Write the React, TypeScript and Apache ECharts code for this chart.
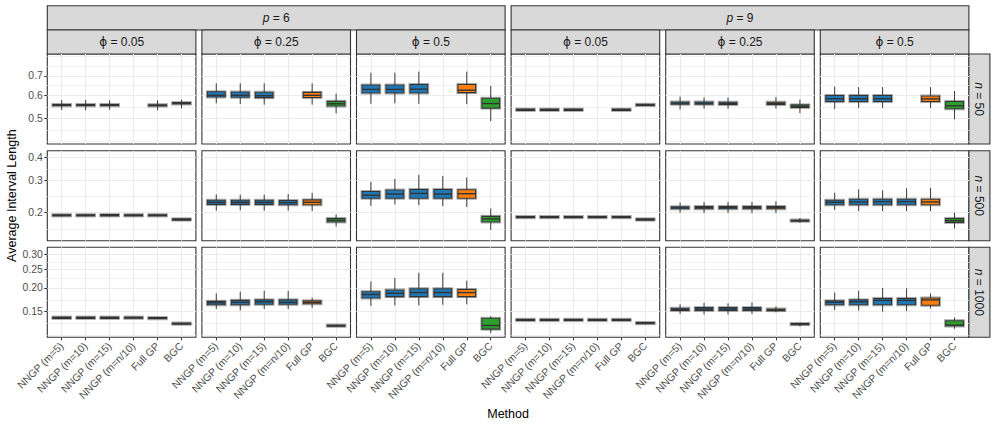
import React, { useEffect, useRef } from "react";
import * as echarts from "echarts";

// ---------- data ----------
const METHODS = ["NNGP (m=5)", "NNGP (m=10)", "NNGP (m=15)", "NNGP (m=n/10)", "Full GP", "BGC"];
const P_LEVELS = ["6", "9"];
const PHI_LEVELS = ["0.05", "0.25", "0.5"];
const N_LEVELS = ["50", "500", "1000"];

const Y_TICKS_N50 = ["0.5", "0.6", "0.7"];
const Y_TICKS_N500 = ["0.2", "0.3", "0.4"];
const Y_TICKS_N1000 = ["0.15", "0.20", "0.25", "0.30"];
const Y_LIMITS = [
  [0.4076, 0.8331],
  [0.1405, 0.4369],
  [0.1101, 0.3265],
];

// each row: [lower whisker, Q1, median, Q3, upper whisker] per method (null = absent)
const N50_P6_PHI005 = [
  [0.534, 0.552, 0.555, 0.558, 0.578],
  [0.533, 0.552, 0.555, 0.558, 0.578],
  [0.535, 0.552, 0.555, 0.558, 0.577],
  null,
  [0.533, 0.551, 0.554, 0.557, 0.577],
  [0.541, 0.560, 0.563, 0.566, 0.580],
];
const N50_P6_PHI025 = [
  [0.563, 0.592, 0.600, 0.617, 0.660],
  [0.560, 0.591, 0.600, 0.616, 0.660],
  [0.557, 0.589, 0.598, 0.615, 0.660],
  null,
  [0.557, 0.590, 0.600, 0.614, 0.660],
  [0.520, 0.551, 0.561, 0.572, 0.608],
];
const N50_P6_PHI05 = [
  [0.561, 0.611, 0.629, 0.651, 0.718],
  [0.563, 0.611, 0.629, 0.651, 0.718],
  [0.561, 0.611, 0.630, 0.654, 0.724],
  null,
  [0.559, 0.613, 0.625, 0.654, 0.724],
  [0.489, 0.542, 0.562, 0.586, 0.646],
];
const N50_P9_PHI005 = [
  [0.531, 0.533, 0.535, 0.537, 0.540],
  [0.531, 0.533, 0.535, 0.537, 0.540],
  [0.531, 0.533, 0.535, 0.537, 0.540],
  null,
  [0.531, 0.533, 0.535, 0.537, 0.540],
  [0.552, 0.554, 0.556, 0.558, 0.561],
];
const N50_P9_PHI025 = [
  [0.536, 0.559, 0.564, 0.569, 0.594],
  [0.540, 0.559, 0.564, 0.569, 0.590],
  [0.540, 0.558, 0.563, 0.568, 0.590],
  null,
  [0.540, 0.558, 0.563, 0.568, 0.592],
  [0.521, 0.545, 0.550, 0.556, 0.580],
];
const N50_P9_PHI05 = [
  [0.539, 0.571, 0.584, 0.599, 0.643],
  [0.543, 0.571, 0.584, 0.599, 0.640],
  [0.543, 0.571, 0.584, 0.599, 0.640],
  null,
  [0.543, 0.571, 0.583, 0.597, 0.640],
  [0.496, 0.539, 0.552, 0.571, 0.621],
];

const N500_P6_PHI005 = [
  [0.191, 0.1928, 0.1935, 0.1942, 0.196],
  [0.191, 0.1928, 0.1935, 0.1942, 0.196],
  [0.191, 0.1928, 0.1936, 0.1943, 0.196],
  [0.191, 0.1928, 0.1935, 0.1942, 0.196],
  [0.191, 0.1928, 0.1935, 0.1942, 0.196],
  [0.1825, 0.1832, 0.1836, 0.184, 0.1847],
];
const N500_P6_PHI025 = [
  [0.205, 0.222, 0.228, 0.234, 0.252],
  [0.206, 0.222, 0.228, 0.234, 0.251],
  [0.205, 0.222, 0.228, 0.234, 0.251],
  [0.205, 0.221, 0.227, 0.233, 0.253],
  [0.204, 0.221, 0.228, 0.235, 0.257],
  [0.168, 0.178, 0.182, 0.186, 0.196],
];
const N500_P6_PHI05 = [
  [0.218, 0.240, 0.249, 0.261, 0.295],
  [0.222, 0.240, 0.253, 0.266, 0.306],
  [0.220, 0.240, 0.255, 0.268, 0.322],
  [0.217, 0.240, 0.253, 0.268, 0.318],
  [0.215, 0.240, 0.254, 0.267, 0.312],
  [0.161, 0.178, 0.185, 0.191, 0.211],
];
const N500_P9_PHI005 = [
  [0.1875, 0.1886, 0.1893, 0.19, 0.191],
  [0.1875, 0.1886, 0.1893, 0.19, 0.191],
  [0.1875, 0.1886, 0.1893, 0.19, 0.191],
  [0.1875, 0.1886, 0.1893, 0.19, 0.191],
  [0.1875, 0.1886, 0.1893, 0.19, 0.191],
  [0.1825, 0.1831, 0.1836, 0.1841, 0.1847],
];
const N500_P9_PHI025 = [
  [0.200, 0.210, 0.2127, 0.2155, 0.227],
  [0.199, 0.210, 0.213, 0.216, 0.229],
  [0.199, 0.210, 0.213, 0.216, 0.229],
  [0.199, 0.210, 0.213, 0.216, 0.229],
  [0.199, 0.210, 0.213, 0.216, 0.231],
  [0.176, 0.180, 0.181, 0.1825, 0.187],
];
const N500_P9_PHI05 = [
  [0.207, 0.221, 0.228, 0.234, 0.257],
  [0.204, 0.221, 0.229, 0.237, 0.268],
  [0.204, 0.221, 0.230, 0.237, 0.265],
  [0.204, 0.221, 0.230, 0.237, 0.272],
  [0.204, 0.221, 0.229, 0.237, 0.274],
  [0.164, 0.177, 0.181, 0.186, 0.200],
];

const N1000_P6_PHI005 = [
  [0.1380, 0.1389, 0.1394, 0.1399, 0.1408],
  [0.1380, 0.1389, 0.1394, 0.1399, 0.1408],
  [0.1380, 0.1389, 0.1394, 0.1399, 0.1408],
  [0.1381, 0.1390, 0.1395, 0.1400, 0.1409],
  [0.1378, 0.1383, 0.1387, 0.1391, 0.1396],
  [0.1293, 0.1296, 0.1299, 0.1302, 0.1305],
];
const N1000_P6_PHI025 = [
  [0.155, 0.163, 0.167, 0.170, 0.187],
  [0.152, 0.163, 0.168, 0.172, 0.191],
  [0.155, 0.164, 0.169, 0.173, 0.193],
  [0.155, 0.164, 0.168, 0.173, 0.193],
  [0.157, 0.165, 0.168, 0.171, 0.178],
  [0.1258, 0.1262, 0.1267, 0.1275, 0.1282],
];
const N1000_P6_PHI05 = [
  [0.161, 0.177, 0.1846, 0.191, 0.216],
  [0.162, 0.180, 0.1875, 0.195, 0.2255],
  [0.162, 0.180, 0.189, 0.198, 0.240],
  [0.163, 0.180, 0.189, 0.198, 0.240],
  [0.164, 0.180, 0.189, 0.196, 0.218],
  [0.1158, 0.1215, 0.127, 0.1385, 0.142],
];
const N1000_P9_PHI005 = [
  [0.1350, 0.1354, 0.1358, 0.1362, 0.1366],
  [0.1350, 0.1354, 0.1358, 0.1362, 0.1366],
  [0.1350, 0.1354, 0.1358, 0.1362, 0.1366],
  [0.1350, 0.1354, 0.1358, 0.1362, 0.1366],
  [0.1350, 0.1354, 0.1358, 0.1362, 0.1366],
  [0.1300, 0.1304, 0.1307, 0.1310, 0.1313],
];
const N1000_P9_PHI025 = [
  [0.146, 0.1525, 0.1544, 0.1565, 0.164],
  [0.145, 0.1525, 0.155, 0.1575, 0.167],
  [0.145, 0.1525, 0.155, 0.1575, 0.166],
  [0.146, 0.1525, 0.155, 0.1575, 0.168],
  [0.149, 0.152, 0.1535, 0.155, 0.160],
  [0.1255, 0.1285, 0.1292, 0.1299, 0.1315],
];
const N1000_P9_PHI05 = [
  [0.153, 0.163, 0.168, 0.171, 0.189],
  [0.152, 0.163, 0.169, 0.173, 0.193],
  [0.150, 0.163, 0.172, 0.176, 0.200],
  [0.151, 0.163, 0.172, 0.176, 0.199],
  [0.156, 0.162, 0.173, 0.177, 0.187],
  [0.122, 0.1262, 0.1275, 0.1345, 0.140],
];

const PANELS = [
  [N50_P6_PHI005, N50_P6_PHI025, N50_P6_PHI05, N50_P9_PHI005, N50_P9_PHI025, N50_P9_PHI05],
  [N500_P6_PHI005, N500_P6_PHI025, N500_P6_PHI05, N500_P9_PHI005, N500_P9_PHI025, N500_P9_PHI05],
  [N1000_P6_PHI005, N1000_P6_PHI025, N1000_P6_PHI05, N1000_P9_PHI005, N1000_P9_PHI025, N1000_P9_PHI05],
];
const ROW_TICKS = [Y_TICKS_N50, Y_TICKS_N500, Y_TICKS_N1000];

// ---------- styling / layout ----------
const COLORS = ["#1F77B4", "#1F77B4", "#1F77B4", "#1F77B4", "#FF7F0E", "#2CA02C"];
const FONT = "'Liberation Sans', Arial, Helvetica, sans-serif";
const COL_LEFT = [47.3, 201.9, 356.5, 511.1, 665.7, 820.3];
const PANEL_W = 148.6;
const ROW_TOP = [54, 150.7, 247.3];
const PANEL_H = 90;
const STRIP1_TOP = 5.7;
const STRIP1_H = 24.3;
const STRIP2_TOP = 30;
const STRIP2_H = 24;
const RSTRIP_LEFT = 968.9;
const RSTRIP_W = 21;
const BOX_WIDTH = 0.74;
const TICK_FONT = 10.4;
const STRIP_FONT = 12;
const TITLE_FONT = 12.5;

function minorBreaks(majors: number[], lo: number, hi: number) {
  let b = majors.slice();
  if (lo < b[0]) b = [b[0] - (b[1] - b[0]), ...b];
  const n = b.length;
  if (hi > b[n - 1]) b = [...b, b[n - 1] + (b[n - 1] - b[n - 2])];
  const out: number[] = [];
  for (let i = 0; i < b.length - 1; i++) {
    out.push(b[i], (b[i] + b[i + 1]) / 2);
  }
  out.push(b[b.length - 1]);
  return out.filter((v) => v >= lo && v <= hi);
}

function buildOption() {
  const grid: any[] = [];
  const xAxis: any[] = [];
  const yAxis: any[] = [];
  const series: any[] = [];
  const xTicks = METHODS.map((_, i) => i + 1);

  for (let r = 0; r < 3; r++) {
    const lo = Math.log10(Y_LIMITS[r][0]);
    const hi = Math.log10(Y_LIMITS[r][1]);
    const majLabels = ROW_TICKS[r];
    const majors = majLabels.map((s) => Math.log10(parseFloat(s)));
    const minors = minorBreaks(majors, lo, hi);
    const fmt = (v: number) => {
      let best = 0;
      majors.forEach((m, i) => {
        if (Math.abs(m - v) < Math.abs(majors[best] - v)) best = i;
      });
      return majLabels[best];
    };
    for (let c = 0; c < 6; c++) {
      const g = r * 6 + c;
      grid.push({
        left: COL_LEFT[c],
        top: ROW_TOP[r],
        width: PANEL_W,
        height: PANEL_H,
        show: true,
        backgroundColor: "#FFFFFF",
        borderColor: "#333333",
        borderWidth: 1.1,
        z: 0,
      });
      const bottom = r === 2;
      xAxis.push({
        type: "value",
        gridIndex: g,
        min: 0.4,
        max: 6.6,
        axisLine: { show: false },
        axisTick: {
          show: bottom,
          customValues: xTicks,
          length: 3,
          lineStyle: { color: "#333333", width: 1 },
        },
        axisLabel: {
          show: bottom,
          customValues: xTicks,
          formatter: (v: number) => METHODS[Math.round(v) - 1] || "",
          rotate: 45,
          margin: 7,
          fontSize: TICK_FONT,
          fontFamily: FONT,
          color: "#4D4D4D",
        },
        splitLine: { show: true, lineStyle: { color: "#EBEBEB", width: 1 } },
      });
      yAxis.push({
        type: "value",
        gridIndex: g,
        min: lo,
        max: hi,
        axisLine: { show: false },
        axisTick: {
          show: c === 0,
          customValues: majors,
          length: 3,
          lineStyle: { color: "#333333", width: 1 },
        },
        axisLabel: {
          show: c === 0,
          customValues: majors,
          formatter: fmt,
          margin: 4.5,
          fontSize: TICK_FONT,
          fontFamily: FONT,
          color: "#4D4D4D",
        },
        splitLine: { show: true, lineStyle: { color: "#EBEBEB", width: 1 } },
      });
      yAxis.push({
        type: "value",
        gridIndex: g,
        min: lo,
        max: hi,
        axisLine: { show: false },
        axisTick: { show: false, customValues: minors },
        axisLabel: { show: false, customValues: minors },
        splitLine: { show: true, lineStyle: { color: "#EBEBEB", width: 0.7 } },
      });

      const panel = PANELS[r][c];
      const data: any[] = [];
      panel.forEach((row, i) => {
        if (!row) return;
        data.push([i + 1, ...row.map((v) => Math.log10(v)), i]);
      });
      series.push({
        type: "custom",
        xAxisIndex: g,
        yAxisIndex: 2 * g,
        encode: { x: 0, y: [1, 2, 3, 4, 5] },
        data,
        z: 5,
        renderItem: (params: any, api: any) => {
          const x = api.value(0);
          const p = (k: number) => api.coord([x, api.value(k)]);
          const cx = p(3)[0];
          const yLo = p(1)[1];
          const yQ1 = p(2)[1];
          const yMed = p(3)[1];
          const yQ3 = p(4)[1];
          const yHi = p(5)[1];
          const w = api.size([BOX_WIDTH, 0])[0];
          const color = COLORS[api.value(6)];
          const minH = 1.2;
          const h = Math.max(yQ1 - yQ3, minH);
          const boxTop = yQ1 - yQ3 < minH ? yMed - minH / 2 : yQ3;
          return {
            type: "group",
            children: [
              {
                type: "line",
                shape: { x1: cx, y1: yHi, x2: cx, y2: boxTop },
                style: { stroke: "#3A3A3A", lineWidth: 1 },
              },
              {
                type: "line",
                shape: { x1: cx, y1: boxTop + h, x2: cx, y2: yLo },
                style: { stroke: "#3A3A3A", lineWidth: 1 },
              },
              {
                type: "rect",
                shape: { x: cx - w / 2 - 1, y: boxTop - 1, width: w + 2, height: h + 2 },
                style: { fill: "none", stroke: "rgba(60,60,60,0.45)", lineWidth: 1 },
              },
              {
                type: "rect",
                shape: { x: cx - w / 2, y: boxTop, width: w, height: h },
                style: { fill: color, stroke: "#333333", lineWidth: 1.1 },
              },
              {
                type: "line",
                shape: { x1: cx - w / 2, y1: yMed, x2: cx + w / 2, y2: yMed },
                style: { stroke: "#333333", lineWidth: 1.4 },
              },
            ],
          };
        },
      });
    }
  }

  const txt = (extra: any) => ({
    fontSize: STRIP_FONT,
    fontFamily: FONT,
    fill: "#1A1A1A",
    textAlign: "center",
    align: "center",
    textVerticalAlign: "middle",
    verticalAlign: "middle",
    ...extra,
  });
  const rich = {
    it: { fontStyle: "italic", fontSize: STRIP_FONT, fontFamily: FONT, fill: "#1A1A1A" },
    sym: { fontSize: STRIP_FONT, fontFamily: "'DejaVu Sans', sans-serif", fill: "#1A1A1A" },
  };

  const graphic: any[] = [];
  P_LEVELS.forEach((p, i) => {
    const x0 = COL_LEFT[i * 3];
    const x1 = COL_LEFT[i * 3 + 2] + PANEL_W;
    graphic.push({
      type: "rect",
      shape: { x: x0, y: STRIP1_TOP, width: x1 - x0, height: STRIP1_H },
      style: { fill: "#D9D9D9", stroke: "#333333", lineWidth: 1.1 },
    });
    graphic.push({
      type: "text",
      x: (x0 + x1) / 2,
      y: STRIP1_TOP + STRIP1_H / 2,
      style: txt({ text: `{it|p} = ${p}`, rich }),
    });
    PHI_LEVELS.forEach((phi, j) => {
      const c = i * 3 + j;
      graphic.push({
        type: "rect",
        shape: { x: COL_LEFT[c], y: STRIP2_TOP, width: PANEL_W, height: STRIP2_H },
        style: { fill: "#D9D9D9", stroke: "#333333", lineWidth: 1.1 },
      });
      graphic.push({
        type: "text",
        x: COL_LEFT[c] + PANEL_W / 2,
        y: STRIP2_TOP + STRIP2_H / 2,
        style: txt({ text: `{sym|\u03D5} = ${phi}`, rich }),
      });
    });
  });
  N_LEVELS.forEach((n, r) => {
    graphic.push({
      type: "rect",
      shape: { x: RSTRIP_LEFT, y: ROW_TOP[r], width: RSTRIP_W, height: PANEL_H },
      style: { fill: "#D9D9D9", stroke: "#333333", lineWidth: 1.1 },
    });
    graphic.push({
      type: "text",
      x: RSTRIP_LEFT + RSTRIP_W / 2,
      y: ROW_TOP[r] + PANEL_H / 2,
      rotation: -Math.PI / 2,
      style: txt({ text: `{it|n} = ${n}`, rich }),
    });
  });
  graphic.push({
    type: "text",
    x: 12,
    y: (ROW_TOP[0] + ROW_TOP[2] + PANEL_H) / 2,
    rotation: Math.PI / 2,
    style: txt({ text: "Average Interval Length", fontSize: TITLE_FONT, fill: "#000000" }),
  });
  graphic.push({
    type: "text",
    x: (COL_LEFT[0] + COL_LEFT[5] + PANEL_W) / 2,
    y: 414,
    style: txt({ text: "Method", fontSize: TITLE_FONT, fill: "#000000" }),
  });

  return {
    animation: false,
    backgroundColor: "#FFFFFF",
    grid,
    xAxis,
    yAxis,
    series,
    graphic,
  };
}

export default function App() {
  const ref = useRef<HTMLDivElement>(null);
  useEffect(() => {
    if (!ref.current) return;
    const chart = echarts.init(ref.current, null, { renderer: "svg" });
    chart.setOption(buildOption() as any);
    return () => chart.dispose();
  }, []);
  return (
    <div
      ref={ref}
      style={{ position: "absolute", left: 0, top: 0, width: 996, height: 427 }}
    />
  );
}
